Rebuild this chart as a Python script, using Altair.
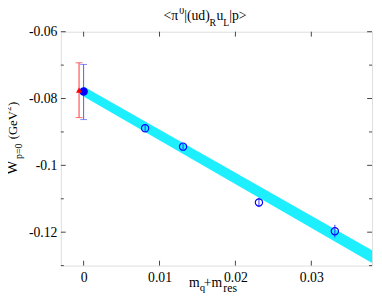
import altair as alt
import pandas as pd

# ---- data ----
open_x = [0.0081, 0.0131, 0.0231, 0.0331]
open_y = [-0.0889, -0.0944, -0.1111, -0.1197]
open_err = [0.0009, 0.0009, 0.0014, 0.0019]

chiral_x = [0.0]
chiral_y = [-0.0779]
chiral_lo = [-0.0863]
chiral_hi = [-0.0698]

red_x = [-0.0006]
red_y = [-0.0775]
red_lo = [-0.0857]
red_hi = [-0.0693]

band_x = [0.0, 0.038]
band_lo = [-0.0794, -0.1292]
band_hi = [-0.0764, -0.1254]

x_major = [0.0, 0.01, 0.02, 0.03]
y_major = [-0.12, -0.1, -0.08, -0.06]
y_minor = [-0.13, -0.11, -0.09, -0.07]

W, H = 318, 239
FONT = "Liberation Serif"

xs = alt.Scale(domain=[-0.003, 0.038], nice=False, zero=False)
ys = alt.Scale(domain=[-0.13, -0.06], nice=False, zero=False)

open_df = pd.DataFrame({"x": open_x, "y": open_y,
                        "lo": [a - e for a, e in zip(open_y, open_err)],
                        "hi": [a + e for a, e in zip(open_y, open_err)]})
chiral_df = pd.DataFrame({"x": chiral_x, "y": chiral_y, "lo": chiral_lo, "hi": chiral_hi})
red_df = pd.DataFrame({"x": red_x, "y": red_y, "lo": red_lo, "hi": red_hi})
band_df = pd.DataFrame({"x": band_x, "lo": band_lo, "hi": band_hi})

X = lambda f="x": alt.X(f"{f}:Q", scale=xs, title=None,
                        axis=alt.Axis(values=x_major, labelExpr="toString(datum.value)",
                                      ticks=False, domain=False, grid=False,
                                      labelFont=FONT, labelFontSize=14, labelColor="black",
                                      labelPadding=5))
Y = lambda f="y": alt.Y(f"{f}:Q", scale=ys, title=None,
                        axis=alt.Axis(values=y_major, labelExpr="toString(datum.value)",
                                      ticks=False, domain=False, grid=False,
                                      labelFont=FONT, labelFontSize=14, labelColor="black",
                                      labelPadding=4))

band = alt.Chart(band_df).mark_area(color="#11eeff", opacity=0.95).encode(
    x=X(), y=Y("lo"), y2="hi:Q")

def errbars(df, color, cap):
    bar = alt.Chart(df).mark_rule(color=color, strokeWidth=1).encode(x=X(), y=Y("lo"), y2="hi:Q")
    layers = [bar]
    if cap:
        for f in ["lo", "hi"]:
            layers.append(alt.Chart(df).mark_tick(color=color, orient="horizontal", size=7,
                                                  thickness=1).encode(x=X(), y=Y(f)))
    return layers

red_err = errbars(red_df, "#ff3333", True)
chiral_err = errbars(chiral_df, "#5555ff", True)
open_err_l = errbars(open_df, "#3333ff", False)

open_pts = alt.Chart(open_df).mark_point(shape="circle", filled=False, color="#0000ff",
                                         size=55, strokeWidth=1.2, opacity=1).encode(x=X(), y=Y())
chiral_pt = alt.Chart(chiral_df).mark_point(shape="circle", filled=True, color="#0000ff",
                                            size=75, opacity=1).encode(x=X(), y=Y())
red_pt = alt.Chart(red_df).mark_point(shape="triangle-up", filled=True, color="#ff0000",
                                      size=40, opacity=1).encode(x=X(), y=Y())

# inward ticks on all four sides
TC = "#444444"
def yticks(vals, length):
    d = pd.DataFrame({"y": vals})
    return [alt.Chart(d).mark_rule(color=TC, strokeWidth=1).encode(
                y=Y(), x=alt.value(0), x2=alt.value(length)),
            alt.Chart(d).mark_rule(color=TC, strokeWidth=1).encode(
                y=Y(), x=alt.value(W), x2=alt.value(W - length))]

def xticks(vals, length):
    d = pd.DataFrame({"x": vals})
    return [alt.Chart(d).mark_rule(color=TC, strokeWidth=1).encode(
                x=X(), y=alt.value(H), y2=alt.value(H - length)),
            alt.Chart(d).mark_rule(color=TC, strokeWidth=1).encode(
                x=X(), y=alt.value(0), y2=alt.value(length))]

ticks = yticks(y_major, 5) + yticks(y_minor, 3) + xticks(x_major, 5)

def seg(text, x, y, size, angle=0):
    return alt.Chart(pd.DataFrame({"t": [text]})).mark_text(
        font=FONT, fontSize=size, align="left", baseline="alphabetic",
        color="black", angle=angle).encode(text="t:N", x=alt.value(x), y=alt.value(y))

# title  <π^0|(ud)_R u_L|p>   (plot origin at page x=62, y=29)
title = [
    seg("<π", 105, -12, 14),
    seg("0", 121, -18, 10),
    seg("|(ud)", 126, -12, 14),
    seg("R", 152, -6, 10),
    seg("u", 159, -12, 14),
    seg("L", 166, -6, 10),
    seg("|p>", 172, -12, 14),
]
# x title m_q + m_res
xtitle = [
    seg("m", 131, 261, 14),
    seg("q", 142, 265, 11),
    seg("+m", 146, 261, 14),
    seg("res", 166, 266, 12),
]
# y title W_{p=0} (GeV^2), rotated
ytitle = [
    seg("W", -45, 146, 15, 270),
    seg("p=0", -40, 130, 10, 270),
    seg("(GeV", -45, 110, 13, 270),
    seg("2", -51, 81, 9, 270),
    seg(")", -45, 76, 13, 270),
]

chart = alt.layer(
    band, *red_err, *chiral_err, *open_err_l, open_pts, chiral_pt, red_pt,
    *ticks, *title, *xtitle, *ytitle
).properties(
    width=W, height=H,
    autosize=alt.AutoSizeParams(type="none"),
    padding={"left": 54, "top": 21, "right": 2, "bottom": 35},
).configure_view(stroke="#555555", strokeWidth=2).configure(background="white")

chart.save("out.html", embed_options={"renderer": "svg", "actions": False})
